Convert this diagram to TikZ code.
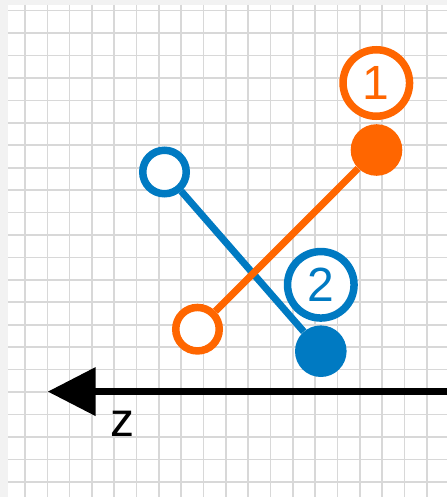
\documentclass[tikz,border=0pt]{standalone}
\usepackage{fontspec}
\setmainfont{Liberation Sans}
\usetikzlibrary{arrows.meta}
\definecolor{orng}{HTML}{FF6600}
\definecolor{blu}{HTML}{007AC2}
\definecolor{gridgray}{HTML}{D8D8D8}
\definecolor{bggray}{HTML}{F2F2F2}
\begin{document}
\begin{tikzpicture}[x=1pt,y=-1pt,
  opendot/.style={circle, draw=#1, fill=white, line width=7.5pt, minimum size=43.5pt, inner sep=0pt},
  filldot/.style={circle, fill=#1, minimum size=51.6pt, inner sep=0pt},
  labelring/.style={circle, draw=#1, fill=white, line width=7.5pt, minimum size=66.5pt, inner sep=0pt, text=#1, font=\fontsize{48}{58}\selectfont},
  link/.style={draw=#1, line width=7pt},
  gridline/.style={gridgray, line width=1.6pt},
  bigtext/.style={font=\fontsize{48}{58}\selectfont, inner sep=0pt}
]
\useasboundingbox (0,0) rectangle (447,497);
\fill[bggray] (0,0) rectangle (447,497);
\fill[white] (8,5) rectangle (447,497);
\begin{scope}
  \clip (8,5) rectangle (447,497);
  \foreach \k in {0,...,18} \draw[gridline] ({25+22.32*\k},5) -- ({25+22.32*\k},497);
  \foreach \k in {0,...,21} \draw[gridline] (8,{10.7+22.43*\k}) -- (447,{10.7+22.43*\k});
\end{scope}

\node[opendot=blu] (b0) at (164.5,172) {};
\node[filldot=blu] (b1) at (320.8,351.2) {};
\node[opendot=orng] (o0) at (197.5,329.2) {};
\node[filldot=orng] (o1) at (376.5,150) {};

\path[link=blu] (b0) -- (b1);
\path[link=orng] (o0) -- (o1);

\node[labelring=orng] (l1) at (376.3,83) {1};
\node[labelring=blu] (l2) at (320.8,284.8) {2};

\coordinate (zr) at (447,391.6);
\coordinate (zl) at (47.7,391.6);
\draw[line width=7.5pt, -{Triangle[length=48pt,width=47pt]}] (zr) -- (zl);
\node[bigtext, anchor=base] (zlab) at (122.5,436.7) {z};
\end{tikzpicture}
\end{document}
